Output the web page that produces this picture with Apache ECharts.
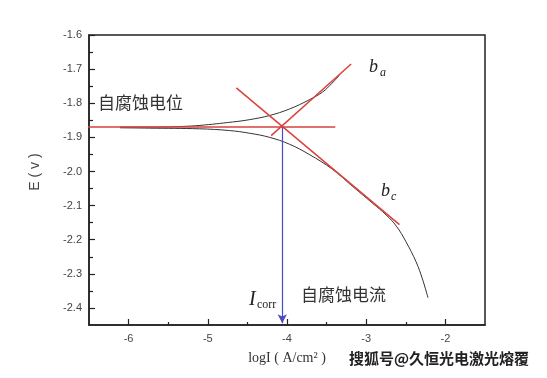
<!DOCTYPE html>
<html>
<head>
<meta charset="utf-8">
<script src="https://cdn.jsdelivr.net/npm/echarts@6/dist/echarts.min.js"></script>
<style>
  html, body { margin: 0; padding: 0; background: #fff; }
  #chart-container { width: 547px; height: 378px; }
</style>
</head>
<body>
<div id="chart-container"></div>
<script>
// 极化曲线
var anodicLogI = [-6.11, -5.74, -5.32, -5.10, -4.69, -4.47, -4.22, -3.97, -3.72, -3.55, -3.43, -3.34];
var anodicE = [-1.870, -1.870, -1.868, -1.865, -1.855, -1.848, -1.836, -1.817, -1.790, -1.767, -1.741, -1.719];
var cathodicLogI = [-6.11, -5.74, -5.10, -4.73, -4.47, -4.22, -3.97, -3.72, -3.43, -3.17, -2.92, -2.75, -2.62, -2.50, -2.37, -2.29, -2.22];
var cathodicE = [-1.872, -1.873, -1.875, -1.880, -1.888, -1.900, -1.920, -1.950, -1.993, -2.044, -2.093, -2.127, -2.160, -2.205, -2.265, -2.315, -2.370];

// 切线
var ecorrLogI = [-6.85, -3.39];
var ecorrE = [-1.870, -1.870];
var baLogI = [-4.20, -3.19];
var baE = [-1.895, -1.685];
var bcLogI = [-4.64, -2.58];
var bcE = [-1.755, -2.156];
var icorrLogI = -4.06;

// 刻度
var yTicks = [-2.4, -2.3, -2.2, -2.1, -2.0, -1.9, -1.8, -1.7, -1.6];
var yMinorTicks = [-2.35, -2.25, -2.15, -2.05, -1.95, -1.85, -1.75, -1.65];
var xTicks = [-6, -5, -4, -3, -2];
var xMinorTicks = [-5.5, -4.5, -3.5, -2.5];

function pairs(xs, ys) {
    return xs.map(function (x, i) { return [x, ys[i]]; });
}

var red = '#d9423c';
var labelStyle = { color: '#444', fontSize: 11, fontFamily: 'Liberation Sans, Arial' };

var myChart = echarts.init(document.getElementById('chart-container'));
var option = {
    animation: false,
    grid: {
        left: 89, right: 62, top: 35, bottom: 53,
        show: true, borderColor: '#222', borderWidth: 1.5
    },
    xAxis: [{
        type: 'value', min: -6.5, max: -1.5,
        axisLine: { show: true, onZero: false, lineStyle: { color: '#222', width: 1.5 } },
        axisTick: { inside: true, length: 6, customValues: xTicks, lineStyle: { color: '#222', width: 1.2 } },
        axisLabel: Object.assign({ margin: 8, customValues: xTicks, formatter: function (v) { return String(v); } }, labelStyle),
        splitLine: { show: false }
    }, {
        type: 'value', min: -6.5, max: -1.5, position: 'bottom',
        axisLine: { show: false },
        axisTick: { inside: true, length: 3, customValues: xMinorTicks, lineStyle: { color: '#222', width: 1.2 } },
        axisLabel: { show: false },
        splitLine: { show: false }
    }],
    yAxis: [{
        type: 'value', min: -2.45, max: -1.6,
        axisLine: { show: true, onZero: false, lineStyle: { color: '#222', width: 1.5 } },
        axisTick: { inside: true, length: 6, customValues: yTicks, lineStyle: { color: '#222', width: 1.2 } },
        axisLabel: Object.assign({ margin: 7, customValues: yTicks, formatter: function (v) { return v.toFixed(1); } }, labelStyle),
        splitLine: { show: false }
    }, {
        type: 'value', min: -2.45, max: -1.6, position: 'left',
        axisLine: { show: false },
        axisTick: { inside: true, length: 4, customValues: yMinorTicks, lineStyle: { color: '#222', width: 1.2 } },
        axisLabel: { show: false },
        splitLine: { show: false }
    }],
    series: [{
        name: 'anodic', type: 'line', smooth: 0.4, showSymbol: false,
        lineStyle: { color: '#333', width: 1 },
        data: pairs(anodicLogI, anodicE)
    }, {
        name: 'cathodic', type: 'line', smooth: 0.4, showSymbol: false,
        lineStyle: { color: '#333', width: 1 },
        data: pairs(cathodicLogI, cathodicE)
    }, {
        name: 'Ecorr', type: 'line', showSymbol: false, clip: false,
        lineStyle: { color: red, width: 1.5 },
        data: pairs(ecorrLogI, ecorrE)
    }, {
        name: 'ba', type: 'line', showSymbol: false, clip: false,
        lineStyle: { color: red, width: 1.5 },
        data: pairs(baLogI, baE)
    }, {
        name: 'bc', type: 'line', showSymbol: false, clip: false,
        lineStyle: { color: red, width: 1.5 },
        data: pairs(bcLogI, bcE),
        markLine: {
            silent: true, symbol: ['none', 'arrow'], symbolSize: [7, 9],
            label: { show: false },
            lineStyle: { color: '#4a4ac4', width: 1.2, type: 'solid' },
            data: [[{ coord: [icorrLogI, ecorrE[0]] }, { coord: [icorrLogI, -2.445] }]]
        }
    }],
    graphic: [
        { type: 'text', left: 98, top: 94, style: { text: '自腐蚀电位', fontSize: 17, fill: '#333', fontFamily: 'Noto Sans CJK SC' } },
        { type: 'text', left: 301, top: 286, style: { text: '自腐蚀电流', fontSize: 17, fill: '#333', fontFamily: 'Noto Sans CJK SC' } },
        { type: 'text', left: 369, top: 58, style: { text: 'b', fontSize: 18, fontStyle: 'italic', fill: '#222', fontFamily: 'Liberation Serif' } },
        { type: 'text', left: 380, top: 67, style: { text: 'a', fontSize: 12, fontStyle: 'italic', fill: '#222', fontFamily: 'Liberation Serif' } },
        { type: 'text', left: 381, top: 182, style: { text: 'b', fontSize: 18, fontStyle: 'italic', fill: '#222', fontFamily: 'Liberation Serif' } },
        { type: 'text', left: 391, top: 191, style: { text: 'c', fontSize: 12, fontStyle: 'italic', fill: '#222', fontFamily: 'Liberation Serif' } },
        { type: 'text', left: 249, top: 290, style: { text: 'I', fontSize: 20, fontStyle: 'italic', fill: '#222', fontFamily: 'Liberation Serif' } },
        { type: 'text', left: 257, top: 299, style: { text: 'corr', fontSize: 12, fill: '#222', fontFamily: 'Liberation Serif' } },
        {
            type: 'text', x: 35, y: 172, rotation: Math.PI / 2,
            style: { text: 'E ( v )', fontSize: 14, fill: '#444', fontFamily: 'Liberation Sans', align: 'center', verticalAlign: 'middle' }
        },
        {
            type: 'text', x: 287, y: 358,
            style: { text: 'logI ( A/cm² )', fontSize: 14, fill: '#333', fontFamily: 'Liberation Serif', align: 'center', verticalAlign: 'middle' }
        },
        {
            type: 'text', x: 349, y: 358,
            style: { text: '搜狐号@久恒光电激光熔覆', fontSize: 15, fontWeight: 'bold', fill: '#222', stroke: '#fff', lineWidth: 2, fontFamily: 'Noto Sans CJK SC', align: 'left', verticalAlign: 'middle' }
        }
    ]
};
myChart.setOption(option);
</script>
</body>
</html>
